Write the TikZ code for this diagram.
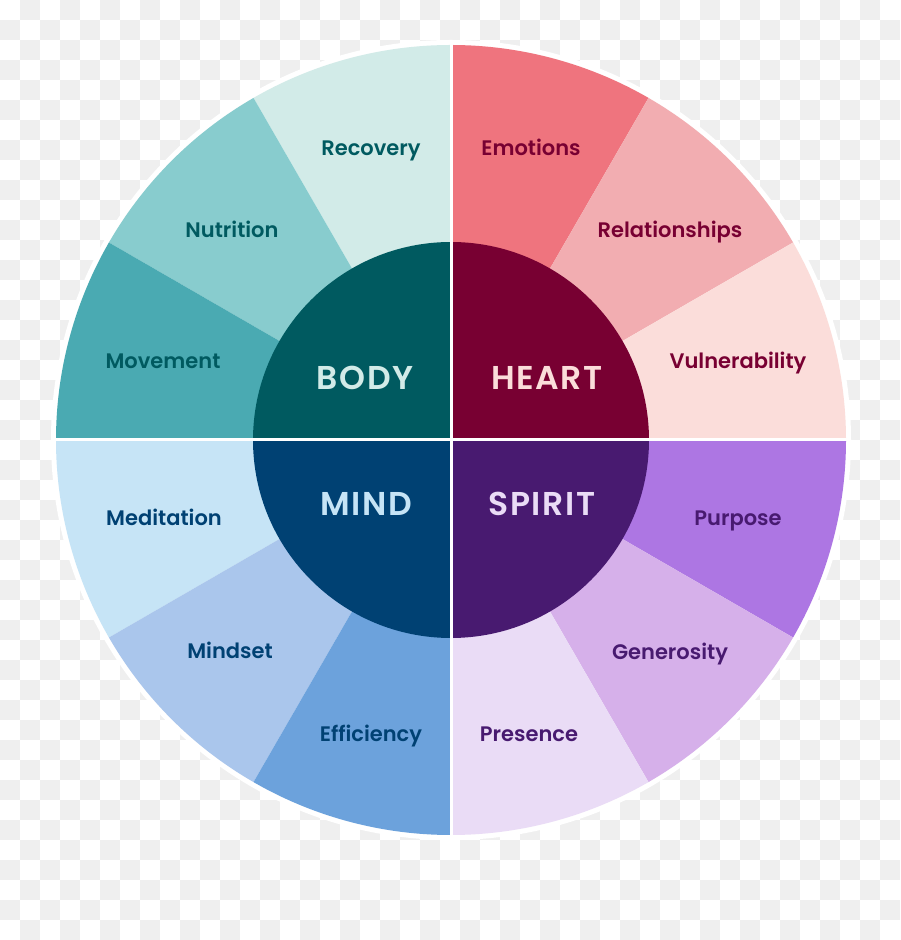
\documentclass[tikz,border=0pt]{standalone}
\usepackage{fontspec}
\setmainfont{Poppins}
\newfontfamily\labfont{Poppins SemiBold}
\newfontfamily\bigfont{Poppins SemiBold}[LetterSpace=5]
\definecolor{ckgray}{HTML}{EFEFEF}
\definecolor{cRecovery}{HTML}{D2EBE8}
\definecolor{cNutrition}{HTML}{88CCCE}
\definecolor{cMovement}{HTML}{4AAAB2}
\definecolor{cEmotions}{HTML}{EF747E}
\definecolor{cRelation}{HTML}{F2ADB1}
\definecolor{cVulner}{HTML}{FBDDDA}
\definecolor{cPurpose}{HTML}{AD76E3}
\definecolor{cGener}{HTML}{D6B0EA}
\definecolor{cPresence}{HTML}{EADCF6}
\definecolor{cMeditation}{HTML}{C6E4F6}
\definecolor{cMindset}{HTML}{AAC6EC}
\definecolor{cEfficiency}{HTML}{6CA2DC}
\definecolor{cBody}{HTML}{005A60}
\definecolor{cHeart}{HTML}{780032}
\definecolor{cMind}{HTML}{004173}
\definecolor{cSpirit}{HTML}{481A70}
\tikzset{
  lab/.style={anchor=base, inner sep=0pt, font=\labfont\fontsize{21}{24}\selectfont},
  big/.style={anchor=base, inner sep=0pt, font=\bigfont\fontsize{33}{36}\selectfont},
}
\newcommand{\sector}[3]{%
  \fill[#1] (0,0) -- (#2:395pt) arc[start angle=#2, end angle=#3, radius=395pt] -- cycle;}
\begin{document}
\begin{tikzpicture}[x=1pt,y=1pt]
\useasboundingbox (0,0) rectangle (900,940);
\fill[white] (0,0) rectangle (900,940);
\foreach \i in {0,...,44}{
  \foreach \j in {0,...,46}{
    \pgfmathtruncatemacro\ckodd{mod(\i+\j,2)}
    \ifnum\ckodd=1
      \fill[ckgray] (20*\i,940-20*\j-20) rectangle (20*\i+20,940-20*\j);
    \fi
  }
}
\begin{scope}[shift={(451,500)}]
  \fill[white] (0,0) circle[radius=400pt];
  \sector{cRecovery}{90}{120}
  \sector{cNutrition}{120}{150}
  \sector{cMovement}{150}{180}
  \sector{cEmotions}{60}{90}
  \sector{cRelation}{30}{60}
  \sector{cVulner}{0}{30}
  \sector{cPurpose}{330}{360}
  \sector{cGener}{300}{330}
  \sector{cPresence}{270}{300}
  \sector{cMeditation}{180}{210}
  \sector{cMindset}{210}{240}
  \sector{cEfficiency}{240}{270}
  \fill[cBody] (0,0) -- (90:198pt) arc[start angle=90, end angle=180, radius=198pt] -- cycle;
  \fill[cHeart] (0,0) -- (0:198pt) arc[start angle=0, end angle=90, radius=198pt] -- cycle;
  \fill[cMind] (0,0) -- (180:198pt) arc[start angle=180, end angle=270, radius=198pt] -- cycle;
  \fill[cSpirit] (0,0) -- (270:198pt) arc[start angle=270, end angle=360, radius=198pt] -- cycle;
  \draw[white, line width=3pt] (-399pt,0) -- (399pt,0);
  \draw[white, line width=3pt] (0,-399pt) -- (0,399pt);
\end{scope}
% outer labels
\node[lab, text=cBody] (recovery) at (371,784) {Recovery};
\node[lab, text=cBody] (nutrition) at (232,702) {Nutrition};
\node[lab, text=cBody] (movement) at (163,571) {Movement};
\node[lab, text=cHeart] (emotions) at (531,784) {Emotions};
\node[lab, text=cHeart] (relationships) at (670,702) {Relationships};
\node[lab, text=cHeart] (vulnerability) at (738,571) {Vulnerability};
\node[lab, text=cMind] (meditation) at (164,414) {Meditation};
\node[lab, text=cMind] (mindset) at (230,281) {Mindset};
\node[lab, text=cMind] (efficiency) at (371,198) {Efficiency};
\node[lab, text=cSpirit] (purpose) at (738,414) {Purpose};
\node[lab, text=cSpirit] (generosity) at (670,280) {Generosity};
\node[lab, text=cSpirit] (presence) at (529,198) {Presence};
% centre labels
\node[big, text=cRecovery] (body) at (365,550) {BODY};
\node[big, text=cVulner] (heart) at (547,550) {HEART};
\node[big, text=cMeditation] (mind) at (366,424) {MIND};
\node[big, text=cPresence] (spirit) at (542,424) {SPIRIT};
\end{tikzpicture}
\end{document}
